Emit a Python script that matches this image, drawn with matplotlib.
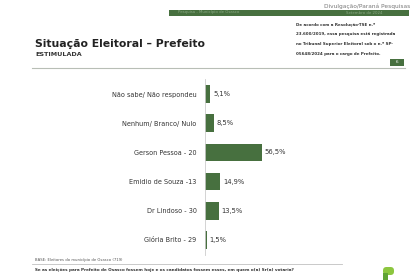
import matplotlib
matplotlib.use("Agg")
import matplotlib.pyplot as plt
from matplotlib.patches import Rectangle, FancyBboxPatch, Polygon

categories = ["Não sabe/ Não respondeu", "Nenhum/ Branco/ Nulo", "Gerson Pessoa - 20",
              "Emidio de Souza -13", "Dr Lindoso - 30", "Glória Brito - 29"]
values = [5.1, 8.5, 56.5, 14.9, 13.5, 1.5]
value_labels = ["5,1%", "8,5%", "56,5%", "14,9%", "13,5%", "1,5%"]

W, H = 420, 280
fig = plt.figure(figsize=(W / 100, H / 100), dpi=100)
fig.patch.set_facecolor("white")

# background axes in pixel coordinates
bg = fig.add_axes([0, 0, 1, 1])
bg.set_xlim(0, W)
bg.set_ylim(H, 0)
bg.axis("off")

green = "#47703f"
bg.text(410, 6, "Divulgação/Paraná Pesquisas", fontsize=4.2, color="#777777", ha="right", va="center")
bg.add_patch(Rectangle((169, 10), 240, 5.5, color=green, lw=0))
bg.text(178, 12.5, "Pesquisa - Município de Osasco", fontsize=2.8, color="#8aa884", ha="left", va="center")
bg.text(383, 12.5, "Setembro de 2024", fontsize=2.8, color="#8aa884", ha="right", va="center")

bg.text(35, 44, "Situação Eleitoral – Prefeito", fontsize=7.8, fontweight="bold", color="#222222", ha="left", va="center")
bg.text(35, 55, "ESTIMULADA", fontsize=4.6, fontweight="bold", color="#333333", ha="left", va="center")

right_lines = ["De acordo com a Resolução-TSE n.º",
               "23.600/2019, essa pesquisa está registrada",
               "no Tribunal Superior Eleitoral sob o n.º SP-",
               "05648/2024 para o cargo de Prefeito."]
for i, line in enumerate(right_lines):
    bg.text(296, 25 + i * 9.5, line, fontsize=2.9, fontweight="bold", color="#333333", ha="left", va="center")
bg.add_patch(Rectangle((390, 58.5), 14, 7, color=green, lw=0))
bg.text(397, 62, "6", fontsize=3, color="white", ha="center", va="center")
bg.plot([32, 405], [68, 68], color="#b8beb6", lw=0.8)

bg.text(35, 259.5, "BASE: Eleitores do município de Osasco (719)", fontsize=2.7, color="#555555", ha="left", va="center")
bg.plot([32, 342], [264, 264], color="#c0c0c0", lw=0.6)
bg.text(35, 270, "Se as eleições para Prefeito de Osasco fossem hoje e os candidatos fossem esses, em quem o(a) Sr(a) votaria?",
        fontsize=2.95, fontweight="bold", color="#333333", ha="left", va="center")
# logo (stylised P)
bg.add_patch(FancyBboxPatch((383, 267), 11, 8, boxstyle="round,pad=0,rounding_size=3.5", color="#8cc63f", lw=0))
bg.add_patch(Rectangle((383, 273), 5, 7, color="#5fa334", lw=0))

# bar axes
ax = fig.add_axes([205 / W, 1 - 254.6 / H, 100 / W, (254.6 - 79.4) / H])
ypos = list(range(len(categories)))
ax.barh(ypos, values, height=0.6, color=green, edgecolor="none")
ax.set_xlim(0, 100)
ax.set_ylim(len(categories) - 0.5, -0.5)
ax.set_yticks(ypos)
ax.set_yticklabels(categories, fontsize=4.7, color="#333333")
ax.tick_params(axis="y", length=0, pad=6)
ax.set_xticks([])
for s in ["top", "right", "bottom"]:
    ax.spines[s].set_visible(False)
ax.spines["left"].set_color("#cccccc")
ax.spines["left"].set_linewidth(0.6)
ax.patch.set_alpha(0)
for y, v, lab in zip(ypos, values, value_labels):
    ax.text(v + 3, y, lab, fontsize=4.9, color="#333333", ha="left", va="center")

fig.savefig("out.png", dpi=100, facecolor="white")
